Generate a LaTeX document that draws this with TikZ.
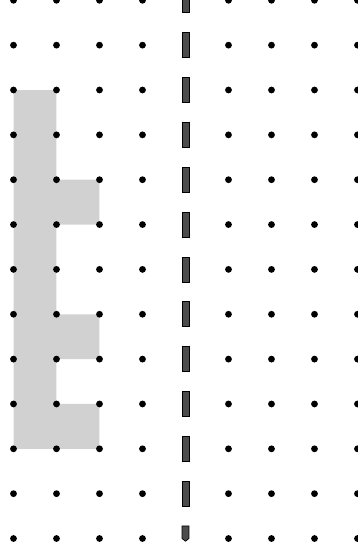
\documentclass[tikz,border=0pt]{standalone}
\usepackage{tikz}

\begin{document}
\begin{tikzpicture}[
x=1.075cm, y=-1.1213cm,
griddot/.style={fill=black},
mirrordash/.style={fill=black!70, draw=black, line width=0.5pt},
figure/.style={fill=black!18}
]
\useasboundingbox (-0.314,-0.0067) rectangle (8.012,12.234);

% the shape to be reflected
\fill[figure] (0,2) -- (1,2) -- (1,4) -- (2,4) -- (2,5) -- (1,5) -- (1,7) -- (2,7)
  -- (2,8) -- (1,8) -- (1,9) -- (2,9) -- (2,10) -- (0,10) -- cycle;

% dot grid
\foreach \c in {0,1,2,3,5,6,7,8}
  \foreach \r in {0,...,12}
    \fill[griddot] (\c,\r) circle[radius=0.085cm];

% mirror line
\foreach \r in {0,...,11}
  \draw[mirrordash] (3.92,\r-0.279) rectangle (4.08,\r+0.279);
\draw[mirrordash] (3.92,11.72) -- (3.92,12.0) -- (4.0,12.06) -- (4.08,12.0) -- (4.08,11.72) -- cycle;
\end{tikzpicture}
\end{document}
